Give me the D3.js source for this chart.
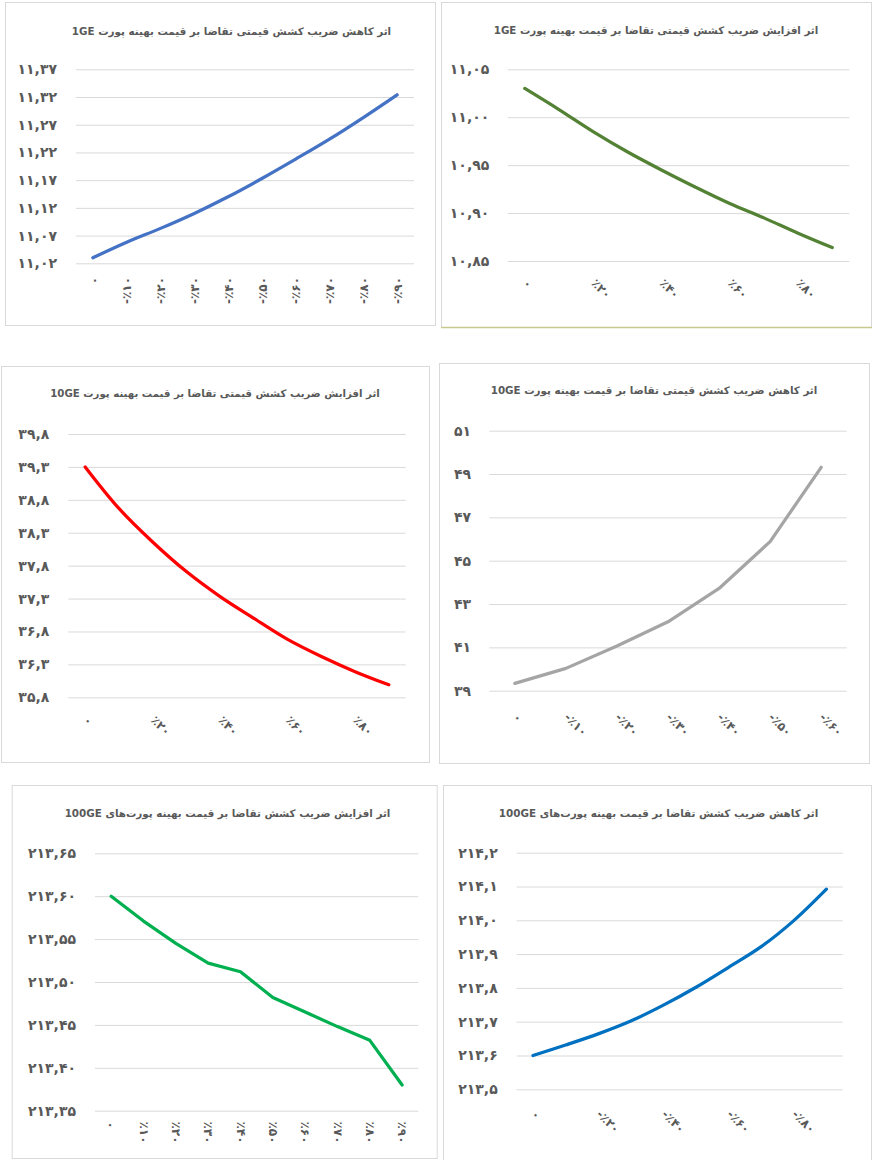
<!DOCTYPE html>
<html><head><meta charset="utf-8">
<script src="https://cdn.jsdelivr.net/npm/d3@7/dist/d3.min.js"></script>
<style>
html,body{margin:0;padding:0;background:#fff;}
svg{display:block;}
text{font-family:"DejaVu Sans",sans-serif;font-weight:bold;fill:#595959;}
</style></head>
<body>
<svg id="c" width="872" height="1160"></svg>
<script>
// ---------- DATA ----------
const catsNeg10 = ["۰","-٪۱۰","-٪۲۰","-٪۳۰","-٪۴۰","-٪۵۰","-٪۶۰","-٪۷۰","-٪۸۰","-٪۹۰"];
const catsPos10 = ["۰","٪۱۰","٪۲۰","٪۳۰","٪۴۰","٪۵۰","٪۶۰","٪۷۰","٪۸۰","٪۹۰"];
const catsNeg7  = ["۰","-٪۱۰","-٪۲۰","-٪۳۰","-٪۴۰","-٪۵۰","-٪۶۰"];

const price1GEdec   = [11.030, 11.058, 11.083, 11.110, 11.140, 11.173, 11.208, 11.244, 11.283, 11.324];
const price1GEinc   = [11.030, 11.008, 10.985, 10.964, 10.945, 10.927, 10.910, 10.895, 10.879, 10.864];
const price10GEinc  = [39.30, 38.67, 38.16, 37.71, 37.33, 37.00, 36.68, 36.42, 36.19, 35.99];
const price10GEdec  = [39.34, 40.03, 41.06, 42.18, 43.72, 45.88, 49.31];
const price100GEinc = [213.600, 213.571, 213.545, 213.522, 213.512, 213.482, 213.465, 213.448, 213.432, 213.380];
const price100GEdec = [213.600, 213.631, 213.664, 213.702, 213.749, 213.802, 213.861, 213.922, 213.999, 214.092];

const ticks1GEdec   = [11.02, 11.07, 11.12, 11.17, 11.22, 11.27, 11.32, 11.37];
const tickLabels1GEdec = ["۱۱,۰۲","۱۱,۰۷","۱۱,۱۲","۱۱,۱۷","۱۱,۲۲","۱۱,۲۷","۱۱,۳۲","۱۱,۳۷"];
const ticks1GEinc   = [10.85, 10.90, 10.95, 11.00, 11.05];
const tickLabels1GEinc = ["۱۰,۸۵","۱۰,۹۰","۱۰,۹۵","۱۱,۰۰","۱۱,۰۵"];
const ticks10GEinc  = [35.8, 36.3, 36.8, 37.3, 37.8, 38.3, 38.8, 39.3, 39.8];
const tickLabels10GEinc = ["۳۵,۸","۳۶,۳","۳۶,۸","۳۷,۳","۳۷,۸","۳۸,۳","۳۸,۸","۳۹,۳","۳۹,۸"];
const ticks10GEdec  = [39, 41, 43, 45, 47, 49, 51];
const tickLabels10GEdec = ["۳۹","۴۱","۴۳","۴۵","۴۷","۴۹","۵۱"];
const ticks100GEinc = [213.35, 213.40, 213.45, 213.50, 213.55, 213.60, 213.65];
const tickLabels100GEinc = ["۲۱۳,۳۵","۲۱۳,۴۰","۲۱۳,۴۵","۲۱۳,۵۰","۲۱۳,۵۵","۲۱۳,۶۰","۲۱۳,۶۵"];
const ticks100GEdec = [213.5, 213.6, 213.7, 213.8, 213.9, 214.0, 214.1, 214.2];
const tickLabels100GEdec = ["۲۱۳,۵","۲۱۳,۶","۲۱۳,۷","۲۱۳,۸","۲۱۳,۹","۲۱۴,۰","۲۱۴,۱","۲۱۴,۲"];

const titles = [
  "اثر کاهش ضریب کشش قیمتی تقاضا بر قیمت بهینه پورت 1GE",
  "اثر افزایش ضریب کشش قیمتی تقاضا بر قیمت بهینه پورت 1GE",
  "اثر افزایش ضریب کشش قیمتی تقاضا بر قیمت بهینه پورت 10GE",
  "اثر کاهش ضریب کشش قیمتی تقاضا بر قیمت بهینه پورت 10GE",
  "اثر افزایش ضریب کشش تقاضا بر قیمت بهینه پورت\u200cهای 100GE",
  "اثر کاهش ضریب کشش تقاضا بر قیمت بهینه پورت\u200cهای 100GE"
];

// ---------- LAYOUT ----------
const panels = [
  {cats:catsNeg10, vals:price1GEdec, ticks:ticks1GEdec, tl:tickLabels1GEdec, title:titles[0],
   box:[5,2,430,323], border:"#d9d9d9", bottomBorder:"#d9d9d9", x:[76,414], y:[263.3,69.3], yLabX:57,
   titleX:231.5, titleY:31, titleW:320, mode:"up", labTop:277, step:1, color:"#4472C4", smooth:true},
  {cats:catsPos10, vals:price1GEinc, ticks:ticks1GEinc, tl:tickLabels1GEinc, title:titles[1],
   box:[441,2,430,325], border:"#d9d9d9", bottomBorder:"#c9c98f", x:[507.7,849.3], y:[261,69.3], yLabX:489.3,
   titleX:656, titleY:30, titleW:325, mode:"diag", labTop:281, step:2, color:"#548235", smooth:true},
  {cats:catsPos10, vals:price10GEinc, ticks:ticks10GEinc, tl:tickLabels10GEinc, title:titles[2],
   box:[1,366,428,396], border:"#d9d9d9", bottomBorder:"#d9d9d9", x:[68.3,405.7], y:[697.3,434], yLabX:49.3,
   titleX:215, titleY:393, titleW:330, mode:"diag", labTop:718, step:2, color:"#FF0000", smooth:true},
  {cats:catsNeg7, vals:price10GEdec, ticks:ticks10GEdec, tl:tickLabels10GEdec, title:titles[3],
   box:[439,363,430,400], border:"#d9d9d9", bottomBorder:"#d9d9d9", x:[489.3,846.7], y:[690.7,430.7], yLabX:471,
   titleX:654, titleY:390.5, titleW:327, mode:"diag", labTop:715, step:1, color:"#A5A5A5", smooth:false},
  {cats:catsPos10, vals:price100GEinc, ticks:ticks100GEinc, tl:tickLabels100GEinc, title:titles[4],
   box:[11.7,785,425,373], border:"#d9d9d9", bottomBorder:"#d9d9d9", x:[95,418.3], y:[1110.7,853.3], yLabX:76,
   titleX:227.5, titleY:813, titleW:326, mode:"down", labTop:1121.5, step:1, color:"#00B050", smooth:false},
  {cats:catsNeg10, vals:price100GEdec, ticks:ticks100GEdec, tl:tickLabels100GEdec, title:titles[5],
   box:[443,785,428,380], border:"#d9d9d9", bottomBorder:"#d9d9d9", x:[516.7,842.7], y:[1089.3,852.7], yLabX:497.7,
   titleX:658.5, titleY:813, titleW:320, mode:"diag", labTop:1112, step:2, color:"#0070C0", smooth:true}
];

const svg = d3.select("#c");

panels.forEach(p => {
  const g = svg.append("g");
  const [bx,by,bw,bh] = p.box;
  g.append("rect").attr("x",bx+0.5).attr("y",by+0.5).attr("width",bw).attr("height",bh)
    .attr("fill","#fff").attr("stroke",p.border).attr("stroke-width",1);
  if (p.bottomBorder !== p.border) {
    g.append("line").attr("x1",bx).attr("x2",bx+bw+1).attr("y1",by+bh+0.5).attr("y2",by+bh+0.5)
      .attr("stroke",p.bottomBorder).attr("stroke-width",1.5);
  }

  const x = d3.scalePoint().domain(p.cats).range(p.x).padding(0.5);
  const y = d3.scaleLinear().domain([p.ticks[0], p.ticks[p.ticks.length-1]]).range(p.y);

  // gridlines + y labels via axis
  const yAxis = d3.axisLeft(y).tickValues(p.ticks).tickSize(-(p.x[1]-p.x[0]))
    .tickFormat((d,i)=>p.tl[i]).tickPadding(p.x[0]-p.yLabX);
  const ya = g.append("g").attr("transform",`translate(${p.x[0]},0)`).call(yAxis);
  ya.select(".domain").remove();
  ya.selectAll(".tick line").attr("stroke","#d9d9d9").attr("stroke-width",1);
  ya.selectAll(".tick text").attr("font-size",14).attr("fill","#595959")
    .attr("font-family","DejaVu Sans").attr("font-weight","bold")
    .style("unicode-bidi","bidi-override").style("direction","ltr");

  // x labels via axis (no lines)
  const xAxis = d3.axisBottom(x).tickSize(0).tickFormat((d,i)=> (i % p.step === 0) ? d : "");
  const xa = g.append("g").attr("transform",`translate(0,${p.labTop})`).call(xAxis);
  xa.select(".domain").remove();
  const xt = xa.selectAll(".tick text").attr("font-size",12).attr("fill","#595959")
    .attr("font-family","DejaVu Sans").attr("font-weight","bold")
    .style("unicode-bidi","bidi-override").style("direction","ltr");
  if (p.mode === "up") {
    xt.attr("transform","rotate(-90)").attr("text-anchor","end").attr("x",0).attr("y",0).attr("dy","0.35em");
  } else if (p.mode === "down") {
    xt.attr("transform","rotate(90)").attr("text-anchor","start").attr("x",0).attr("y",0).attr("dy","0.35em");
  } else {
    xt.attr("transform","rotate(45)").attr("text-anchor","start").attr("x",0).attr("y",0).attr("dy","0.35em");
  }

  // line
  const line = d3.line().x((d,i)=>x(p.cats[i])).y(d=>y(d))
    .curve(p.smooth ? d3.curveCatmullRom.alpha(0.5) : d3.curveLinear);
  g.append("path").datum(p.vals).attr("d",line).attr("fill","none")
    .attr("stroke",p.color).attr("stroke-width",3.25)
    .attr("stroke-linecap","round").attr("stroke-linejoin","round");

  // title
  const t = g.append("text").attr("x",p.titleX).attr("y",p.titleY).attr("dy","0.35em")
    .attr("text-anchor","middle").attr("direction","rtl").style("direction","rtl")
    .attr("font-size",11.5).attr("fill","#595959").text(p.title);
  const w = t.node().getComputedTextLength();
  if (w > 0) t.attr("font-size", Math.max(9, Math.min(14, 11.5 * p.titleW / w)));
});
</script>
</body></html>
